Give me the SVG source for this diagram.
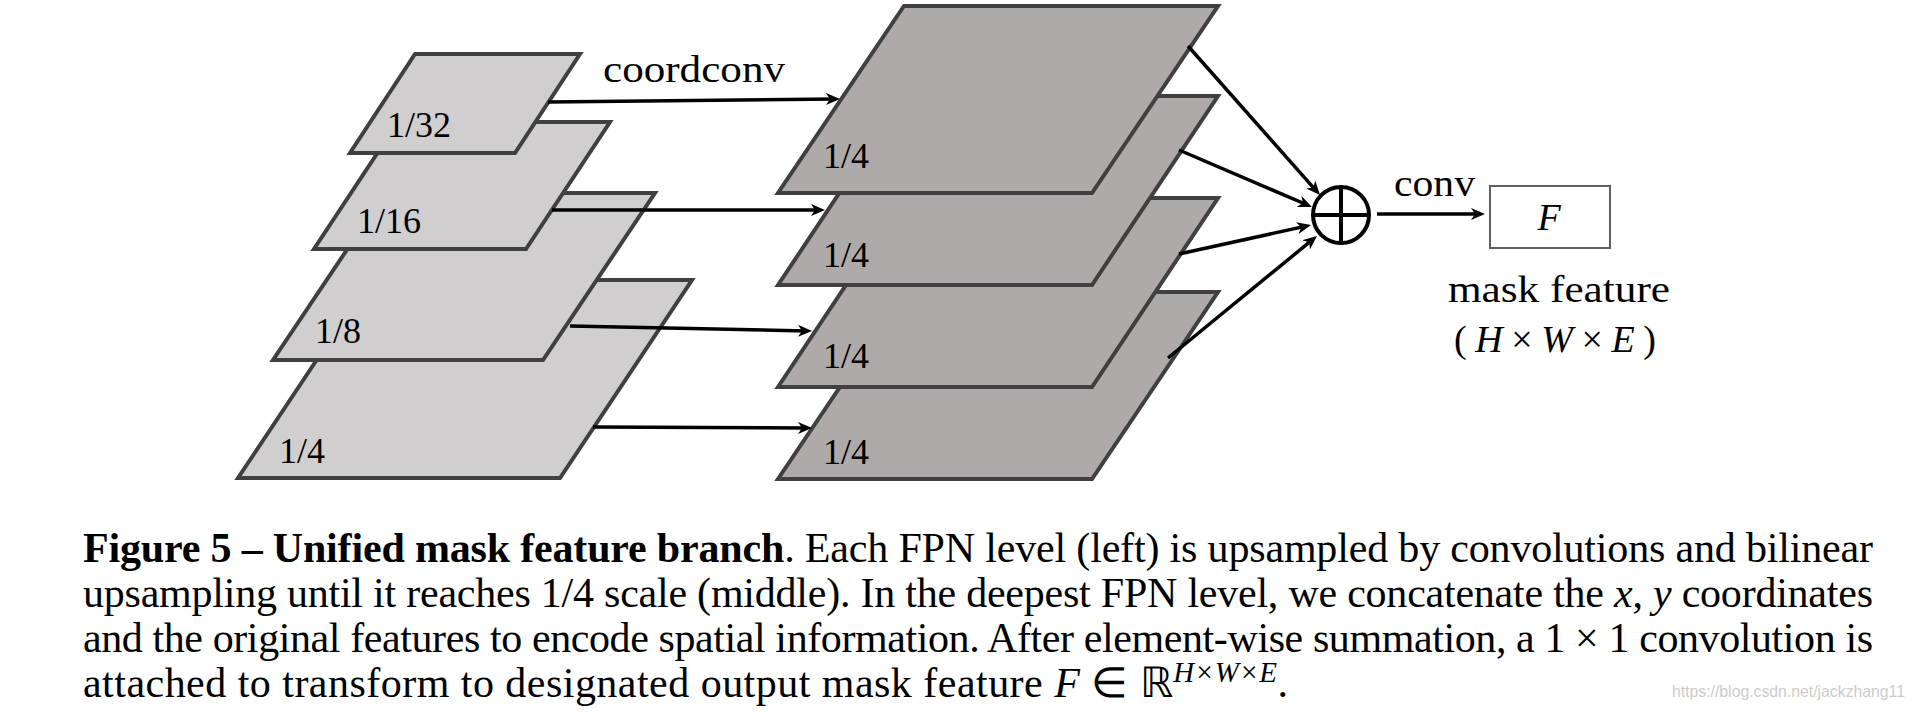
<svg xmlns="http://www.w3.org/2000/svg" width="1914" height="716" viewBox="0 0 1914 716">
<style>
.lp{fill:#d0cecf;stroke:#404040;stroke-width:4;stroke-linejoin:miter}
.mp{fill:#aeaaa9;stroke:#404040;stroke-width:4;stroke-linejoin:miter}
.lbl{font-family:"Liberation Serif","Times New Roman",serif;font-size:36px;fill:#000}
.tx{font-family:"Liberation Serif","Times New Roman",serif;font-size:38px;fill:#000}
.cap{font-family:"Liberation Serif","Times New Roman",serif;font-size:42px;fill:#000}
.arr{stroke:#000;stroke-width:3.5;fill:none;marker-end:url(#ah)}
.it{font-style:italic}
</style>
<defs>
<marker id="ah" markerUnits="userSpaceOnUse" markerWidth="16" markerHeight="14" refX="9" refY="6" orient="auto">
<path d="M0,0 L14,6 L0,12 L4,6 z" fill="#000"/>
</marker>
</defs>
<rect width="1914" height="716" fill="#fff"/>
<g id="fpn-1-4"><polygon class="lp" points="370,280 692,280 560,478 238,478"/><text class="lbl" x="279" y="463">1/4</text></g>
<g id="fpn-1-8"><polygon class="lp" points="385,193 655,193 543,360 273,360"/><text class="lbl" x="315" y="343">1/8</text></g>
<g id="fpn-1-16"><polygon class="lp" points="398,122 610,122 526,249 314,249"/><text class="lbl" x="357" y="233">1/16</text></g>
<g id="fpn-1-32"><polygon class="lp" points="415,54 580,54 515,153 350,153"/><text class="lbl" x="387" y="137">1/32</text></g>
<g id="mid-4"><polygon class="mp" points="904,292 1218,292 1092,479 778,479"/><text class="lbl" x="823" y="464">1/4</text></g>
<g id="mid-3"><polygon class="mp" points="904,198 1218,198 1092,387 778,387"/><text class="lbl" x="823" y="368">1/4</text></g>
<g id="mid-2"><polygon class="mp" points="904,96 1218,96 1092,285 778,285"/><text class="lbl" x="823" y="267">1/4</text></g>
<g id="mid-1"><polygon class="mp" points="904,6 1218,6 1092,193 778,193"/><text class="lbl" x="823" y="168">1/4</text></g>
<g id="sum"><circle cx="1341" cy="215" r="28" fill="#fff" stroke="#000" stroke-width="4"/><line x1="1313" y1="215" x2="1369" y2="215" stroke="#000" stroke-width="4"/><line x1="1341" y1="187" x2="1341" y2="243" stroke="#000" stroke-width="4"/></g>
<g id="maskF"><rect x="1490" y="186" width="120" height="62" fill="#fff" stroke="#606060" stroke-width="2"/><text class="tx it" x="1549" y="230" text-anchor="middle" font-size="30">F</text></g>
<g id="connectors">
<line class="arr" x1="548" y1="102" x2="835" y2="99"/>
<line class="arr" x1="552" y1="210" x2="820" y2="210"/>
<line class="arr" x1="570" y1="326" x2="807" y2="331"/>
<line class="arr" x1="593" y1="427" x2="807" y2="428"/>
<line class="arr" x1="1188" y1="46" x2="1316.7" y2="191.3"/>
<line class="arr" x1="1179" y1="150" x2="1307.4" y2="205"/>
<line class="arr" x1="1179" y1="254" x2="1306.1" y2="226.1"/>
<line class="arr" x1="1168" y1="358" x2="1313.1" y2="239.2"/>
<line class="arr" x1="1377" y1="214" x2="1480" y2="214"/>
</g>
<g id="labels">
<text class="tx" x="603" y="82" textLength="182" lengthAdjust="spacingAndGlyphs">coordconv</text>
<text class="tx" x="1394" y="196" textLength="81" lengthAdjust="spacingAndGlyphs">conv</text>
<text class="tx" x="1448" y="302" textLength="222" lengthAdjust="spacingAndGlyphs">mask feature</text>
<text class="tx" x="1454" y="352" font-size="43" textLength="202" lengthAdjust="spacing">(<tspan class="it">H</tspan>×<tspan class="it">W</tspan>×<tspan class="it">E</tspan>)</text>
</g>
<g id="caption">
<text class="cap" x="83" y="562" textLength="1790" lengthAdjust="spacing"><tspan font-weight="bold">Figure 5 – Unified mask feature branch</tspan>. Each FPN level (left) is upsampled by convolutions and bilinear</text>
<text class="cap" x="83" y="607" textLength="1790" lengthAdjust="spacing">upsampling until it reaches 1/4 scale (middle). In the deepest FPN level, we concatenate the <tspan class="it">x</tspan>, <tspan class="it">y</tspan> coordinates</text>
<text class="cap" x="83" y="652" textLength="1790" lengthAdjust="spacing">and the original features to encode spatial information. After element-wise summation, a 1 × 1 convolution is</text>
<text class="cap" x="83" y="697" textLength="1205" lengthAdjust="spacing">attached to transform to designated output mask feature <tspan class="it">F</tspan> ∈ ℝ<tspan class="it" font-size="29" dy="-15">H×W×E</tspan><tspan dy="15">.</tspan></text>
<text x="1672" y="697" font-family="'Liberation Sans',Arial,sans-serif" font-size="16" fill="#cccccc" textLength="233" lengthAdjust="spacingAndGlyphs">https://blog.csdn.net/jackzhang11</text>
</g>
</svg>
